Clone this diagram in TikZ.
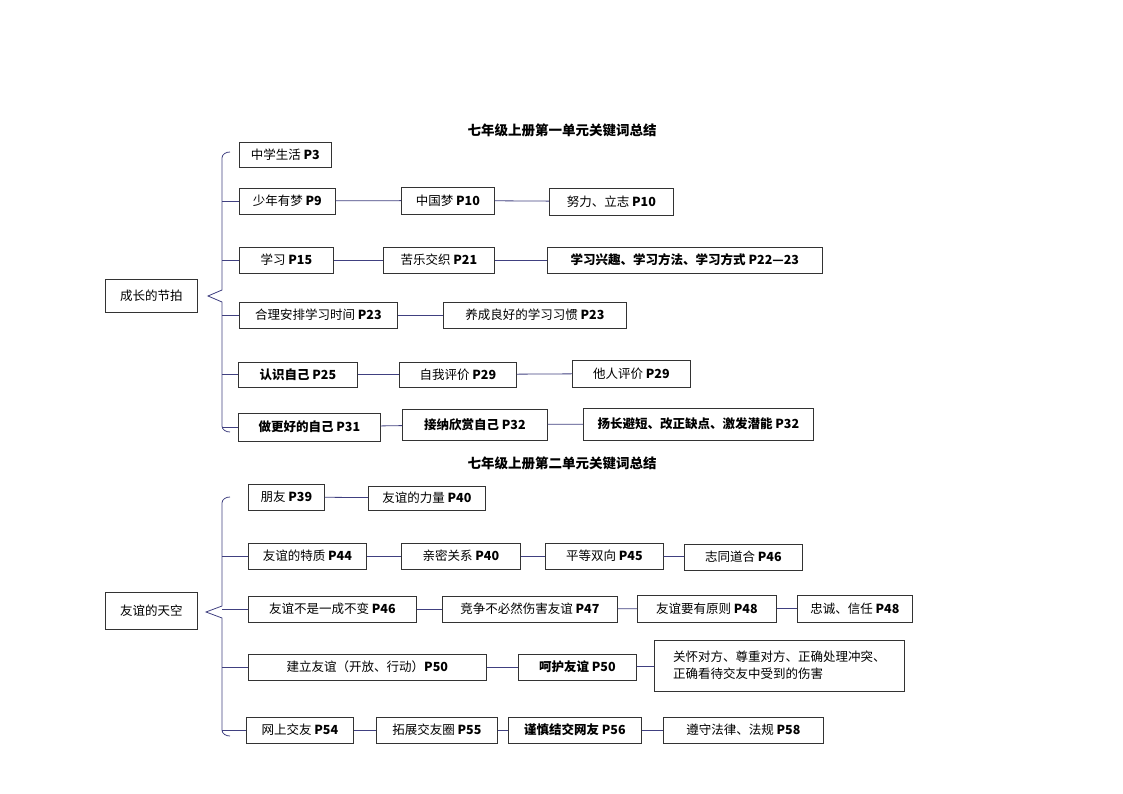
\documentclass[tikz,border=0pt]{standalone}
\usepackage{fontspec}
\setmainfont{Noto Sans CJK SC}
\begin{document}
\begin{tikzpicture}[x=1pt,y=-1pt,
  bx/.style={draw=black!80,line width=0.7pt,inner xsep=8pt,inner ysep=0pt,font=\fontsize{12.5}{17}\selectfont},
  ln/.style={draw=black!50!blue!50!gray,line width=0.8pt},
  ttl/.style={font=\fontsize{13.5}{15}\selectfont\bfseries}]
\useasboundingbox (0,0) rectangle (1123,794);
\newcommand{\B}[6]{\node[bx,minimum width={#4-#2},minimum height={#5-#3},align=left,anchor=west] (#1) at (#2,{(#3+#5)/2}) {#6};}
\node[ttl] (t1) at (562,130) {七年级上册第一单元关键词总结};
\node[ttl] (t2) at (562,463) {七年级上册第二单元关键词总结};
% top
\B{r1}{105}{279}{197}{312}{成长的节拍}
\B{a1}{239}{142}{331}{167}{中学生活 \textbf{P3}}
\B{a2}{239}{188}{335}{214}{少年有梦 \textbf{P9}}
\B{a2b}{401}{187}{494}{214}{中国梦 \textbf{P10}}
\B{a2c}{549}{188}{673}{215}{努力、立志 \textbf{P10}}
\B{a3}{239}{247}{333}{273}{学习 \textbf{P15}}
\B{a3b}{383}{247}{494}{273}{苦乐交织 \textbf{P21}}
\B{a3c}{547}{247}{822}{273}{\bfseries 学习兴趣、学习方法、学习方式 P22—23}
\B{a4}{239}{302}{397}{328}{合理安排学习时间 \textbf{P23}}
\B{a4b}{443}{302}{626}{328}{养成良好的学习习惯 \textbf{P23}}
\B{a5}{238}{362}{357}{387}{\bfseries 认识自己 P25}
\B{a5b}{399}{362}{516}{387}{自我评价 \textbf{P29}}
\B{a5c}{572}{360}{690}{387}{他人评价 \textbf{P29}}
\B{a6}{238}{413}{380}{441}{\bfseries 做更好的自己 P31}
\B{a6b}{402}{409}{547}{440}{\bfseries 接纳欣赏自己 P32}
\B{a6c}{583}{408}{813}{440}{\bfseries 扬长避短、改正缺点、激发潜能 P32}
\draw[ln] (230,152) to[out=180,in=90] (222,158) -- (222,290) -- (208,296) -- (222,302) -- (222,426) to[out=-90,in=180] (230,432);
\foreach \n in {a2,a3,a4,a5,a6} \draw[ln] (222,0 |- \n.west) -- (\n.west);
\draw[ln] (a2)--(a2b); \draw[ln] (a2b)--(a2c);
\draw[ln] (a3)--(a3b); \draw[ln] (a3b)--(a3c);
\draw[ln] (a4)--(a4b);
\draw[ln] (a5)--(a5b); \draw[ln] (a5b)--(a5c);
\draw[ln] (a6)--(a6b); \draw[ln] (a6b)--(a6c);
% bottom
\B{r2}{105}{592}{197}{629}{友谊的天空}
\B{b1}{248}{484}{324}{510}{朋友 \textbf{P39}}
\B{b1b}{368}{486}{485}{510}{友谊的力量 \textbf{P40}}
\B{b2}{248}{543}{366}{569}{友谊的特质 \textbf{P44}}
\B{b2b}{401}{543}{520}{569}{亲密关系 \textbf{P40}}
\B{b2c}{545}{543}{663}{569}{平等双向 \textbf{P45}}
\B{b2d}{684}{544}{802}{570}{志同道合 \textbf{P46}}
\B{b3}{248}{596}{416}{622}{友谊不是一成不变 \textbf{P46}}
\B{b3b}{442}{596}{617}{622}{竞争不必然伤害友谊 \textbf{P47}}
\B{b3c}{637}{595}{776}{622}{友谊要有原则 \textbf{P48}}
\B{b3d}{797}{595}{912}{622}{忠诚、信任 \textbf{P48}}
\B{b4}{248}{654}{486}{680}{建立友谊（开放、行动）\textbf{P50}}
\B{b4b}{518}{654}{636}{680}{\bfseries 呵护友谊 P50}
\B{b4c}{654}{640}{904}{691}{关怀对方、尊重对方、正确处理冲突、\\正确看待交友中受到的伤害}
\B{b5}{246}{717}{353}{743}{网上交友 \textbf{P54}}
\B{b5b}{376}{717}{497}{743}{拓展交友圈 \textbf{P55}}
\B{b5c}{508}{717}{641}{743}{\bfseries 谨慎结交网友 P56}
\B{b5d}{663}{717}{823}{743}{遵守法律、法规 \textbf{P58}}
\draw[ln] (230,497) to[out=180,in=90] (222,503) -- (222,606) -- (206,612) -- (222,618) -- (222,730) to[out=-90,in=180] (230,736);
\foreach \n in {b2,b3,b4,b5} \draw[ln] (222,0 |- \n.west) -- (\n.west);
\draw[ln] (b1)--(b1b);
\draw[ln] (b2)--(b2b); \draw[ln] (b2b)--(b2c); \draw[ln] (b2c)--(b2d);
\draw[ln] (b3)--(b3b); \draw[ln] (b3b)--(b3c); \draw[ln] (b3c)--(b3d);
\draw[ln] (b4)--(b4b); \draw[ln] (b4b)--(b4c);
\draw[ln] (b5)--(b5b); \draw[ln] (b5b)--(b5c); \draw[ln] (b5c)--(b5d);
\end{tikzpicture}
\end{document}
